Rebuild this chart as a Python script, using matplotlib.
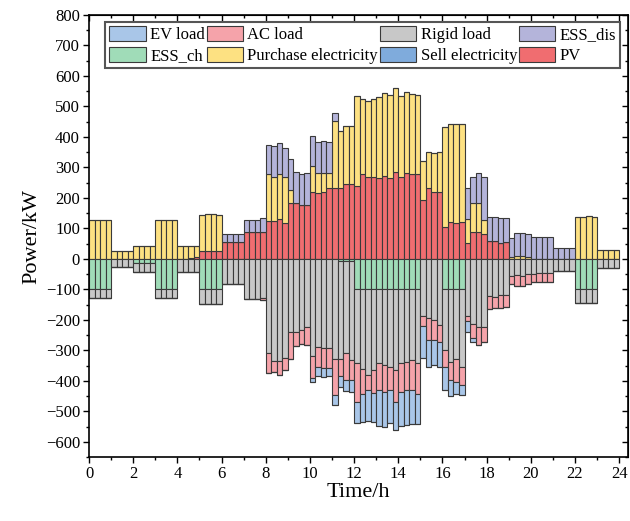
import matplotlib.pyplot as plt
import numpy as np

plt.rcParams["font.family"] = ["Liberation Serif", "DejaVu Serif"]

# 15-min intervals over one day
t = np.arange(96) * 0.25

# supply side (kW), 4 values per hour
pv = [0, 0, 0, 0,  0, 0, 0, 0,  0, 0, 0, 0,  0, 0, 0, 0,
      0, 0, 3, 5,  25, 25, 25, 25,  55, 56, 56, 56,  89, 89, 89, 89,
      125, 125, 130, 118,  182, 182, 176, 176,  220, 217, 220, 231,  231, 231, 245, 245,
      238, 278, 269, 269,  264, 271, 264, 285,  269, 281, 278, 278,  193, 231, 220, 220,
      105, 121, 118, 121,  53, 89, 89, 83,  60, 60, 52, 56,  0, 0, 0, 0,
      0, 0, 0, 0,  0, 0, 0, 0,  0, 0, 0, 0,  0, 0, 0, 0]
purchase = [127, 127, 127, 127,  27, 27, 27, 27,  42, 42, 42, 42,  127, 127, 127, 127,
            43, 43, 40, 38,  118, 122, 122, 120,  0, 0, 0, 0,  0, 0, 0, 0,
            153, 144, 148, 151,  43, 0, 0, 0,  84, 65, 62, 51,  222, 189, 190, 191,
            296, 248, 250, 254,  266, 274, 273, 274,  265, 267, 262, 259,  127, 121, 127, 130,
            326, 323, 323, 320,  79, 95, 94, 46,  0, 0, 0, 0,  6, 8, 8, 5,
            0, 0, 0, 0,  0, 0, 0, 0,  138, 139, 140, 139,  28, 28, 28, 28]
ess_dis = [0, 0, 0, 0,  0, 0, 0, 0,  0, 0, 0, 0,  0, 0, 0, 0,
           0, 0, 0, 0,  0, 0, 0, 0,  28, 27, 27, 27,  40, 40, 40, 44,
           95, 101, 103, 96,  104, 103, 104, 105,  99, 102, 104, 102,  26, 0, 0, 0,
           0, 0, 0, 0,  0, 0, 0, 0,  0, 0, 0, 0,  0, 0, 0, 0,
           0, 0, 0, 0,  102, 85, 99, 140,  78, 77, 82, 78,  64, 76, 77, 75,
           72, 72, 72, 72,  37, 37, 37, 37,  0, 0, 0, 0,  0, 0, 0, 0]

# demand side (kW, drawn below zero)
ess_ch = [100, 100, 100, 100,  0, 0, 0, 0,  12, 12, 12, 12,  100, 100, 100, 100,
          0, 0, 0, 0,  100, 100, 100, 100,  0, 0, 0, 0,  0, 0, 0, 0,
          0, 0, 0, 0,  0, 0, 0, 0,  0, 0, 0, 0,  0, 8, 8, 8,
          100, 100, 100, 100,  100, 100, 100, 100,  100, 100, 100, 100,  0, 0, 0, 0,
          100, 100, 100, 100,  0, 0, 0, 0,  0, 0, 0, 0,  0, 0, 0, 0,
          0, 0, 0, 0,  0, 0, 0, 0,  100, 100, 100, 100,  0, 0, 0, 0]
rigid = [27, 27, 27, 27,  27, 27, 27, 27,  30, 30, 30, 30,  27, 27, 27, 27,
         43, 43, 43, 43,  48, 48, 48, 48,  84, 84, 84, 84,  130, 130, 130, 128,
         310, 335, 335, 325,  240, 240, 232, 223,  319, 289, 294, 294,  327, 319, 302, 324,
         243, 260, 282, 265,  243, 249, 254, 265,  243, 238, 232, 243,  187, 193, 202, 218,
         198, 238, 227, 254,  187, 212, 223, 223,  122, 124, 120, 120,  57, 54, 57, 48,
         48, 46, 46, 46,  39, 39, 39, 39,  45, 45, 45, 45,  30, 30, 30, 30]
ac = [0, 0, 0, 0,  0, 0, 0, 0,  0, 0, 0, 0,  0, 0, 0, 0,
      0, 0, 0, 0,  0, 0, 0, 0,  0, 0, 0, 0,  0, 0, 0, 6,
      63, 35, 46, 40,  89, 45, 48, 58,  72, 67, 64, 64,  118, 58, 88, 66,
      126, 82, 49, 75,  88, 87, 75, 104,  93, 93, 97, 99,  33, 74, 65, 54,
      58, 60, 76, 60,  16, 49, 60, 49,  41, 36, 40, 37,  24, 36, 33, 35,
      27, 29, 29, 29,  0, 0, 0, 0,  0, 0, 0, 0,  0, 0, 0, 0]
ev = [0, 0, 0, 0,  0, 0, 0, 0,  0, 0, 0, 0,  0, 0, 0, 0,
      0, 0, 0, 0,  0, 0, 0, 0,  0, 0, 0, 0,  0, 0, 0, 0,
      0, 0, 0, 0,  0, 0, 0, 0,  12, 28, 28, 26,  34, 35, 37, 38,
      71, 93, 100, 95,  118, 115, 111, 93,  113, 115, 113, 100,  104, 87, 82, 82,
      74, 52, 39, 33,  38, 11, 0, 0,  0, 0, 0, 0,  0, 0, 0, 0,
      0, 0, 0, 0,  0, 0, 0, 0,  0, 0, 0, 0,  0, 0, 0, 0]
sell = [0] * 96

fig, ax = plt.subplots(figsize=(6.3, 5.21), dpi=100)
fig.subplots_adjust(left=0.1413, right=0.9968, top=0.9712, bottom=0.1228)

style = dict(width=0.25, align="edge", edgecolor="#3a3a3a", linewidth=0.8)
handles = {}

up = np.zeros(96)
for vals, col, lab in [(pv, "#f06d70", "PV"),
                       (purchase, "#fde182", "Purchase electricity"),
                       (ess_dis, "#b4b4da", "ESS_dis")]:
    vals = np.array(vals, dtype=float)
    handles[lab] = ax.bar(t, vals, bottom=up, color=col, **style)
    up += vals

down = np.zeros(96)
for vals, col, lab in [(ess_ch, "#a0dcb8", "ESS_ch"),
                       (rigid, "#c8c8c8", "Rigid load"),
                       (ac, "#f5a3aa", "AC load"),
                       (ev, "#a9c6e8", "EV load"),
                       (sell, "#7fabdc", "Sell electricity")]:
    vals = np.array(vals, dtype=float)
    handles[lab] = ax.bar(t, -vals, bottom=-down, color=col, **style)
    down += vals

order = ["EV load", "ESS_ch", "AC load", "Purchase electricity",
         "Rigid load", "Sell electricity", "ESS_dis", "PV"]
leg = ax.legend([handles[k] for k in order], order, ncol=4, loc="upper left",
                bbox_to_anchor=(0.03, 0.985), borderaxespad=0, fontsize=12,
                handlelength=2.2, handleheight=1.0, handletextpad=0.25,
                columnspacing=0.1, labelspacing=0.25, borderpad=0.25,
                fancybox=False, framealpha=1)
leg.get_frame().set_edgecolor("#555555")
leg.get_frame().set_linewidth(1.5)

ax.set_xlim(0, 24.4)
ax.set_ylim(-650, 800)
ax.set_xticks(range(0, 25, 2))
ax.set_xticks(range(0, 25, 1), minor=True)
ax.set_yticks(range(-600, 801, 100))
ax.set_yticks(range(-650, 801, 50), minor=True)
ax.tick_params(which="both", direction="out", labelsize=12, width=1, pad=2.5)
ax.tick_params(which="major", length=4)
ax.tick_params(which="minor", length=2.5)

top = ax.secondary_xaxis("top")
top.set_xticks(range(0, 25, 2))
top.set_xticks(range(0, 25, 1), minor=True)
top.tick_params(which="both", direction="in", labeltop=False, width=1)
top.tick_params(which="major", length=4)
top.tick_params(which="minor", length=2.5)
right = ax.secondary_yaxis("right")
right.set_yticks(range(-600, 801, 100))
right.set_yticks(range(-650, 801, 50), minor=True)
right.tick_params(which="both", direction="in", labelright=False, width=1)
right.tick_params(which="major", length=4)
right.tick_params(which="minor", length=2.5)

for s in ax.spines.values():
    s.set_linewidth(1.2)

ax.set_xlabel("Time/h", fontsize=16, labelpad=1)
ax.set_ylabel("Power/kW", fontsize=16, labelpad=3)

fig.savefig("out.png", dpi=100)
